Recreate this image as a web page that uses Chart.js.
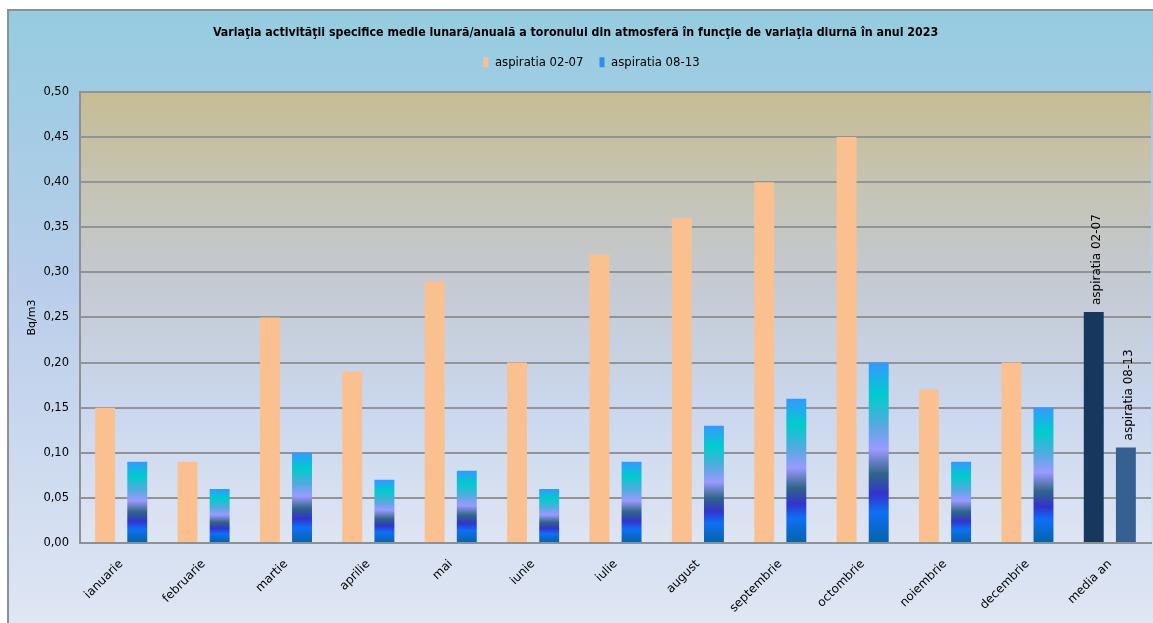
<!DOCTYPE html>
<html lang="ro">
<head>
<meta charset="UTF-8">
<title>Variatia activitatii toronului</title>
<style>
  html, body { margin: 0; padding: 0; background: #fff; }
  #wrap { width: 1153px; height: 623px; }
</style>
</head>
<body>
<div id="wrap"><canvas id="myChart"></canvas></div>
<script src="https://cdn.jsdelivr.net/npm/chart.js"></script>
<script>
const luni = ['ianuarie', 'februarie', 'martie', 'aprilie', 'mai', 'iunie', 'iulie',
  'august', 'septembrie', 'octombrie', 'noiembrie', 'decembrie', 'media an'];
const asp0207 = [0.15, 0.09, 0.25, 0.19, 0.29, 0.20, 0.32, 0.36, 0.40, 0.45, 0.17, 0.20, 0.256];
const asp0813 = [0.09, 0.06, 0.10, 0.07, 0.08, 0.06, 0.09, 0.13, 0.16, 0.20, 0.09, 0.15, 0.106];
const yTicks = [0, 0.05, 0.10, 0.15, 0.20, 0.25, 0.30, 0.35, 0.40, 0.45, 0.50];
const numeSerii = ['aspiratia 02-07', 'aspiratia 08-13'];

// stops of the blue bars, from bottom to top
const blueStops = [
  [0, '#0563a6'], [0.17, '#0f6ff5'], [0.27, '#3333cc'], [0.38, '#2f6487'],
  [0.52, '#9a9aff'], [0.65, '#55aadf'], [0.82, '#00cccc'], [1, '#3399ff']
];

function orangeColor(ctx) {
  return ctx.dataIndex === 12 ? '#17375e' : '#fac090';
}

function blueColor(ctx) {
  if (ctx.type !== 'data') return '#2f8fe8';
  if (ctx.dataIndex === 12) return '#366092';
  const chart = ctx.chart;
  if (!chart.chartArea || !chart.scales.y) return '#2f8fe8';
  const y = chart.scales.y;
  const y0 = y.getPixelForValue(0);
  const y1 = y.getPixelForValue(ctx.raw);
  const g = chart.ctx.createLinearGradient(0, y0, 0, y1);
  blueStops.forEach(s => g.addColorStop(s[0], s[1]));
  return g;
}

const fundal = {
  id: 'fundal',
  afterLayout(chart) {
    // legend sits a bit right of the title in the original
    chart.legend.left += 16;
    chart.legend.right += 16;
  },
  beforeDraw(chart) {
    const c = chart.ctx;
    c.save();
    c.fillStyle = '#ffffff';
    c.fillRect(0, 0, chart.width, chart.height);
    const g = c.createLinearGradient(0, 10, 0, chart.height);
    g.addColorStop(0, '#95cce0');
    g.addColorStop(0.45, '#b9cdea');
    g.addColorStop(1, '#dfe6f4');
    c.fillStyle = g;
    c.fillRect(8, 10, chart.width - 8, chart.height - 10);
    c.strokeStyle = '#8c9094';
    c.lineWidth = 2;
    c.beginPath();
    c.moveTo(8, chart.height);
    c.lineTo(8, 10);
    c.lineTo(chart.width, 10);
    c.stroke();
    const a = chart.chartArea;
    const p = c.createLinearGradient(0, a.top, 0, a.bottom);
    p.addColorStop(0, '#c6bd94');
    p.addColorStop(0.4, '#c4c9d0');
    p.addColorStop(0.7, '#cad7ee');
    p.addColorStop(1, '#dee5f3');
    c.fillStyle = p;
    c.fillRect(a.left, a.top, a.right - a.left, a.bottom - a.top);
    c.restore();
  }
};

// vertical labels above the "media an" bars
const eticheteMedie = {
  id: 'eticheteMedie',
  afterDatasetsDraw(chart) {
    const c = chart.ctx;
    c.save();
    c.font = '12px "DejaVu Sans"';
    c.fillStyle = '#000';
    c.textAlign = 'left';
    c.textBaseline = 'middle';
    [0, 1].forEach(i => {
      const bar = chart.getDatasetMeta(i).data[12];
      c.save();
      c.translate(bar.x + 3, bar.y - 7);
      c.rotate(-Math.PI / 2);
      c.fillText(numeSerii[i], 0, 0);
      c.restore();
    });
    c.restore();
  }
};

const narrow = '"Liberation Sans Narrow", "DejaVu Sans Condensed", sans-serif';

new Chart(document.getElementById('myChart'), {
  type: 'bar',
  data: {
    labels: luni,
    datasets: [{
      label: numeSerii[0],
      data: asp0207,
      backgroundColor: orangeColor,
      categoryPercentage: 0.78,
      barPercentage: 0.62
    }, {
      label: numeSerii[1],
      data: asp0813,
      backgroundColor: blueColor,
      categoryPercentage: 0.78,
      barPercentage: 0.62
    }]
  },
  options: {
    responsive: true,
    maintainAspectRatio: false,
    animation: false,
    layout: { padding: { top: 11, right: 2, left: 0, bottom: 0 } },
    plugins: {
      tooltip: { enabled: false },
      title: {
        display: true,
        text: 'Variaţia activităţii specifice medie lunară/anuală a toronului din atmosferă în funcţie de variaţia diurnă în anul 2023',
        color: '#000',
        font: { family: narrow, size: 12.3, weight: 'bold' },
        padding: { top: 14, bottom: 0 }
      },
      // empty spacer under the legend
      subtitle: {
        display: true,
        text: ' ',
        weight: 500,
        font: { size: 1 },
        padding: { top: 0, bottom: 12 }
      },
      legend: {
        labels: {
          color: '#000',
          boxWidth: 5,
          boxHeight: 10,
          padding: 16,
          font: { family: narrow, size: 13 },
          generateLabels(chart) {
            return chart.data.datasets.map((ds, i) => ({
              text: ds.label,
              fillStyle: i === 0 ? '#fac090' : '#2f8fe8',
              strokeStyle: 'rgba(0,0,0,0)',
              lineWidth: 0,
              fontColor: '#000',
              datasetIndex: i
            }));
          }
        }
      }
    },
    scales: {
      x: {
        grid: { display: false },
        border: { color: '#8e9092', width: 2 },
        ticks: {
          color: '#000',
          font: { family: '"DejaVu Sans"', size: 12 },
          maxRotation: 45,
          minRotation: 45,
          padding: 6
        },
        afterFit(scale) { scale.height = 80; }
      },
      y: {
        min: 0,
        max: 0.5,
        afterBuildTicks(scale) { scale.ticks = yTicks.map(v => ({ value: v })); },
        grid: { color: '#919395', lineWidth: 2, drawTicks: false },
        border: { color: '#8e9092', width: 2 },
        ticks: {
          color: '#000',
          padding: 11,
          font: { family: '"DejaVu Sans"', size: 11.5 },
          callback: v => v.toFixed(2).replace('.', ',')
        },
        title: {
          display: true,
          text: 'Bq/m3',
          color: '#000',
          font: { family: '"DejaVu Sans"', size: 11 },
          padding: { top: 26, bottom: 0 }
        },
        afterFit(scale) { scale.width = 80; }
      }
    }
  },
  plugins: [fundal, eticheteMedie]
});
</script>
</body>
</html>
